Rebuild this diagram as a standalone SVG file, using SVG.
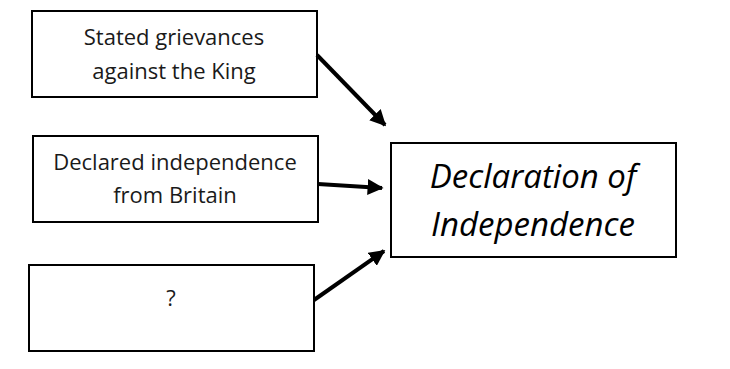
<svg xmlns="http://www.w3.org/2000/svg" width="730" height="369" viewBox="0 0 730 369">
<defs>
<marker id="ah" viewBox="0 0 10 10" refX="9" refY="5" markerWidth="4" markerHeight="4" orient="auto" markerUnits="strokeWidth">
<path d="M0,0 L10,5 L0,10 z" fill="#000"/>
</marker>
<style>
.box{fill:#fff;stroke:#000;stroke-width:2}
.t{font-family:"Open Sans","Liberation Sans",sans-serif;font-size:22px;fill:#1a1a1a;text-anchor:middle}
.ti{font-family:"Open Sans","Liberation Sans",sans-serif;font-size:33px;font-style:italic;fill:#000;text-anchor:middle}
.c{stroke:#000;stroke-width:4;fill:none;marker-end:url(#ah)}
</style>
</defs>
<rect width="730" height="369" fill="#fff"/>
<g id="n1">
<rect class="box" x="32" y="11" width="285" height="86"/>
<text class="t" x="174" y="45">Stated grievances</text>
<text class="t" x="174" y="79">against the King</text>
</g>
<g id="n2">
<rect class="box" x="33" y="136" width="285" height="86"/>
<text class="t" x="175" y="170">Declared independence</text>
<text class="t" x="175" y="203">from Britain</text>
</g>
<g id="n3">
<rect class="box" x="29" y="265" width="285" height="86"/>
<text class="t" x="171" y="306">?</text>
</g>
<g id="n4">
<rect class="box" x="391" y="143" width="285" height="114"/>
<text class="ti" x="533" y="188">Declaration of</text>
<text class="ti" x="533" y="236">Independence</text>
</g>
<g id="connectors">
<line class="c" x1="317" y1="55" x2="385" y2="125"/>
<line class="c" x1="318" y1="184" x2="382" y2="188"/>
<line class="c" x1="314" y1="300" x2="384" y2="251"/>
</g>
</svg>
